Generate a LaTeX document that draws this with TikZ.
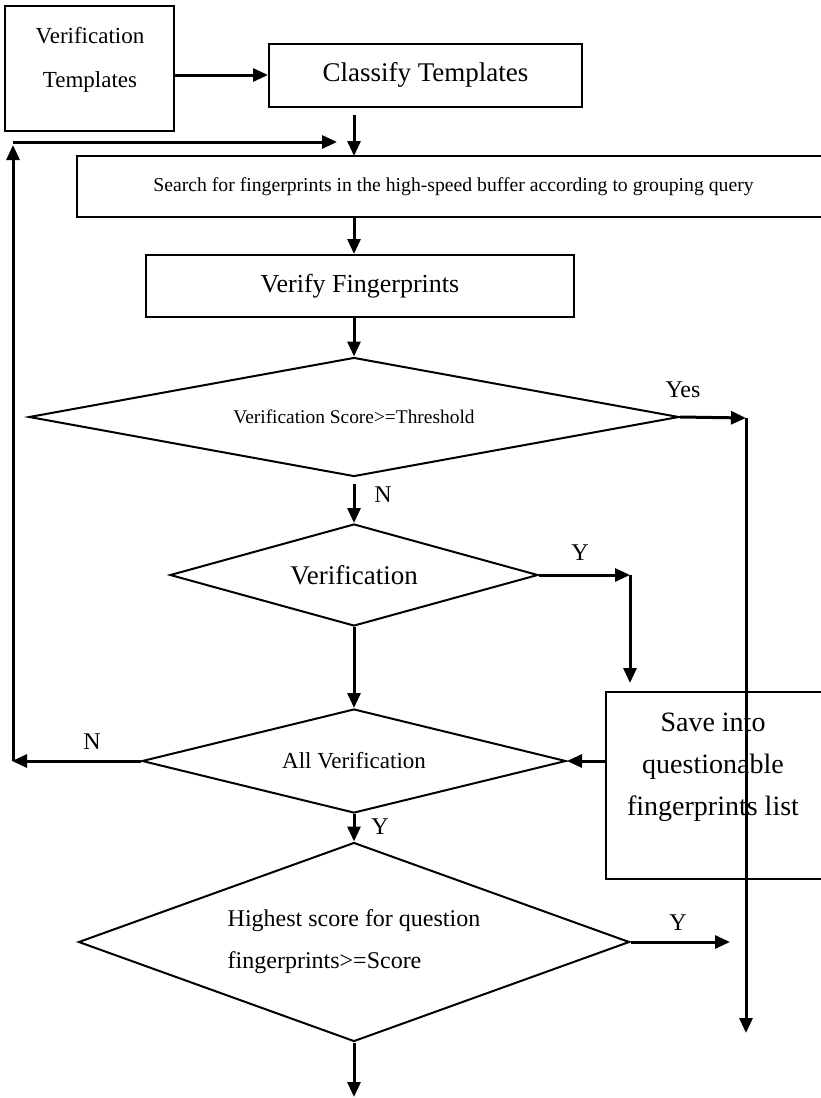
\documentclass[tikz,border=0pt]{standalone}
\usepackage{fontspec}
\setmainfont{Liberation Serif}
\usepackage{tikz}
\usetikzlibrary{shapes.geometric,arrows.meta}
\tikzset{
  box/.style={draw, line width=2pt, inner sep=0pt},
  dec/.style={draw, diamond, line width=2pt, inner sep=0pt, aspect=3},
  arr/.style={line width=3pt, -{Triangle[length=15pt,width=13pt]}},
  lbl/.style={font=\fontsize{24}{28}\selectfont},
}

\begin{document}
\begin{tikzpicture}[x=1pt, y=-1pt]%
\useasboundingbox (0,0) rectangle (820,1098);%
% boxes
\node[box, minimum width=169pt, minimum height=125pt] (vt) at (89.5,68.5) {};%
\node[font=\fontsize{23}{44}\selectfont, align=center] (vttext) at (90,60) {Verification\\Templates};%
\node[box, minimum width=313pt, minimum height=63pt, font=\fontsize{27}{32}\selectfont] (cl) at (425.5,75) {Classify Templates};%
\node[box, minimum width=753pt, minimum height=61pt, font=\fontsize{19.7}{24}\selectfont] (sb) at (453.5,186.5) {Search for fingerprints in the high-speed buffer according to grouping query};%
\node[box, minimum width=428pt, minimum height=62pt, font=\fontsize{26}{30}\selectfont] (vf) at (360,286) {Verify Fingerprints};%
\node[box, minimum width=216pt, minimum height=187pt] (sv) at (714,785.5) {};%
\node[font=\fontsize{28}{42}\selectfont, align=center] (svtext) at (713,767) {Save into\\questionable\\fingerprints list};%
% decisions
\node[dec, minimum width=650pt, minimum height=119pt, font=\fontsize{19.4}{24}\selectfont] (d1) at (354,417) {Verification Score>=Threshold};%
\node[dec, minimum width=368pt, minimum height=102pt, font=\fontsize{27}{32}\selectfont] (d2) at (354,575) {Verification};%
\node[dec, minimum width=424pt, minimum height=104pt, font=\fontsize{23}{28}\selectfont] (d3) at (354,761) {All Verification};%
\node[dec, minimum width=551pt, minimum height=199pt, font=\fontsize{24}{42}\selectfont, align=left] (d4) at (354,942) {Highest score for question\\fingerprints>=Score};%
% free ends
\coordinate (sbin) at (354,156);%
\coordinate (fbl) at (12,761);%
\coordinate (fbt) at (13,142);%
\coordinate (fbr) at (337,142);%
\coordinate (yc) at (746,418);%
\coordinate (ye) at (746,1033);%
\coordinate (y2c) at (630,575);%
\coordinate (y4e) at (730,942);%
\coordinate (out) at (354,1097);%
% connectors
\draw[arr] (vt.east |- cl.west) -- (cl.west);%
\draw[arr, shorten <=7pt] (cl.south -| sbin) -- (sbin);%
\draw[arr] (sb.south -| sbin) -- (vf.north -| sbin);%
\draw[arr] (vf.south -| d1.north) -- (d1.north);%
\draw[arr, shorten <=6pt] (d1.south) -- (d2.north);%
\draw[arr] (d1.east) -- (yc);%
\draw[arr] (yc) -- (ye);%
\draw[arr] (d2.east) -- (y2c);%
\draw[arr, shorten >=8pt] (y2c) -- (y2c |- sv.north);%
\draw[arr] (d2.south) -- (d3.north);%
\draw[arr] (sv.west |- d3.east) -- (d3.east);%
\draw[arr] (d3.west) -- (fbl);%
\draw[arr] (13,761) -- (13,145);%
\draw[arr] (fbt) -- (fbr);%
\draw[arr] (d3.south) -- (d4.north);%
\draw[arr] (d4.east) -- (y4e);%
\draw[arr] (d4.south) -- (out);%
% labels
\node[lbl] (yes) at (683,390) {Yes};%
\node[lbl] (n1) at (383,495) {N};%
\node[lbl] (y1) at (580,553) {Y};%
\node[lbl] (n2) at (92,742) {N};%
\node[lbl] (y2) at (380,827) {Y};%
\node[lbl] (y3) at (678,923) {Y};%
\end{tikzpicture}
\end{document}
